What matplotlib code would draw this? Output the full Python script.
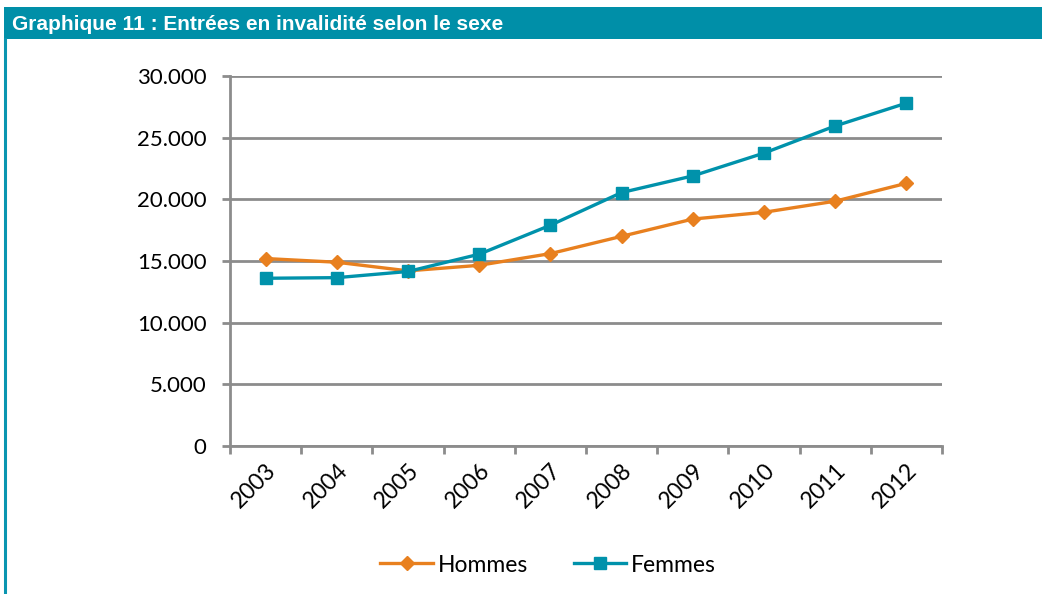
import numpy as np
import matplotlib.pyplot as plt
from matplotlib.patches import Rectangle
from matplotlib.lines import Line2D
from matplotlib.ticker import FuncFormatter

annees = ['2003', '2004', '2005', '2006', '2007', '2008', '2009', '2010', '2011', '2012']
hommes = [15200, 14900, 14200, 14650, 15600, 17000, 18400, 18950, 19850, 21300]
femmes = [13600, 13650, 14150, 15550, 17900, 20550, 21900, 23750, 25950, 27800]

orange = '#E8801F'
bleu = '#0092AB'
gris = '#8C8C8C'

fig = plt.figure(figsize=(10.42, 5.94), dpi=100)
fig.patch.set_facecolor('white')

# bandeau du titre + filet à gauche
fig.patches.append(Rectangle((4/1042, 1-39/594), 1, 32/594, transform=fig.transFigure,
                             facecolor='#008FA8', edgecolor='none'))
fig.lines.append(Line2D([5/1042, 5/1042], [0, 1-39/594], transform=fig.transFigure,
                        color='#0A95B0', lw=2.2))
fig.text(12/1042, 1-24/594, 'Graphique 11 : Entrées en invalidité selon le sexe',
         color='white', fontsize=15, fontweight='bold', family='Liberation Sans', va='center')

ax = fig.add_axes([230/1042, 1-446/594, 712/1042, 370/594])
x = np.arange(len(annees))
ax.plot(x, hommes, color=orange, lw=2.4, marker='D', ms=7, label='Hommes', zorder=3)
ax.plot(x, femmes, color=bleu, lw=2.4, marker='s', ms=8, label='Femmes', zorder=3)

ax.set_xlim(-0.5, len(annees) - 0.5)
ax.set_ylim(0, 30000)
ax.set_yticks(np.arange(0, 30001, 5000))
ax.yaxis.set_major_formatter(FuncFormatter(lambda v, p: '0' if v == 0 else f'{int(v):,}'.replace(',', '.')))
ax.set_xticks(np.arange(-0.5, len(annees), 1))
ax.set_xticklabels([])
ax.set_xticks(x, minor=True)
ax.set_xticklabels(annees, minor=True, rotation=45, ha='right', va='top', rotation_mode='anchor')

ax.grid(axis='y', color=gris, lw=2)
ax.set_axisbelow(True)
for s in ['top', 'right']:
    ax.spines[s].set_visible(False)
for s in ['left', 'bottom']:
    ax.spines[s].set_color(gris)
    ax.spines[s].set_linewidth(2)
ax.tick_params(axis='both', which='major', color=gris, width=2, length=6, direction='out')
ax.tick_params(axis='x', which='minor', length=0, pad=10)
ax.tick_params(axis='y', labelsize=16, pad=11)
for t in ax.get_xticklabels(minor=True):
    t.set_fontsize(16.5)
    t.set_family('Lato')
for t in ax.get_yticklabels():
    t.set_family('Lato')

fig.legend(loc='center', bbox_to_anchor=(548/1042, 1-565/594), ncol=2, frameon=False,
           prop={'family': 'Lato', 'size': 16.5}, handlelength=2.3, handletextpad=0.2,
           columnspacing=2.0)

fig.savefig('out.png', dpi=100)
